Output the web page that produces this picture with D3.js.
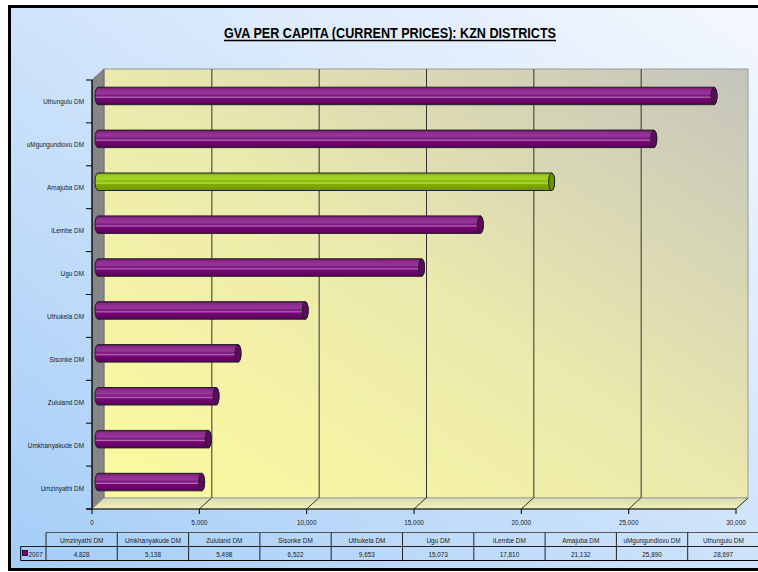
<!DOCTYPE html>
<html>
<head>
<meta charset="utf-8">
<script src="https://cdn.jsdelivr.net/npm/d3@7"></script>
<style>
  body { margin: 0; background: #fff; overflow: hidden; }
  svg { display: block; }
  text { font-family: "Liberation Sans", Arial, sans-serif; }
</style>
</head>
<body>
<div id="chart"></div>
<script>
const categories = ["Umzinyathi DM", "Umkhanyakude DM", "Zululand DM", "Sisonke DM", "Uthukela DM",
  "Ugu DM", "iLembe DM", "Amajuba DM", "uMgungundlovu DM", "Uthungulu DM"];
const values2007 = [4828, 5138, 5498, 6522, 9653, 15073, 17810, 21132, 25890, 28697];
const highlight = "Amajuba DM";
const xTicks = [0, 5000, 10000, 15000, 20000, 25000, 30000];
const seriesName = "2007";

const width = 758, height = 572;
const depthX = 12, depthY = -11;   // 3d offset of the back wall
const squeeze = 0.8;               // labels in the original use a narrow face

const svg = d3.select("#chart").append("svg")
  .attr("width", width).attr("height", height);

const defs = svg.append("defs");

function linGrad(id, x1, y1, x2, y2, stops) {
  const g = defs.append("linearGradient").attr("id", id)
    .attr("x1", x1).attr("y1", y1).attr("x2", x2).attr("y2", y2);
  stops.forEach(s => g.append("stop").attr("offset", s[0]).attr("stop-color", s[1]));
}

// narrow text: draw at (x,y) squeezed horizontally
function narrowText(parent, tx, ty, str, anchor, size) {
  return parent.append("text")
    .attr("transform", `translate(${tx},${ty}) scale(${squeeze},1)`)
    .attr("text-anchor", anchor).attr("font-size", size).attr("fill", "#222")
    .text(str);
}

linGrad("bgGrad", "0", "1", "1", "0", [[0, "#a4cdf7"], [0.55, "#d4e6fb"], [1, "#f6f9ff"]]);
linGrad("wallGrad", "0", "1", "1", "0", [[0, "#fbfb9e"], [0.5, "#ebe9ad"], [1, "#c4c4bc"]]);
linGrad("floorGrad", "0", "0", "0", "1", [[0, "#d8d8b8"], [1, "#f4f4b4"]]);
linGrad("purpleGrad", "0", "0", "0", "1", [
  [0, "#6a086a"], [0.12, "#8a2a8a"], [0.35, "#96389a"], [0.5, "#7e147e"],
  [0.58, "#b070b0"], [0.64, "#780678"], [1, "#5a005a"]]);
linGrad("greenGrad", "0", "0", "0", "1", [
  [0, "#76a400"], [0.12, "#98c818"], [0.35, "#a4d428"], [0.5, "#88b800"],
  [0.58, "#b8e060"], [0.64, "#80ae00"], [1, "#6a9400"]]);

// frame (runs off the right edge like the original)
svg.append("rect").attr("x", 9.5).attr("y", 6.5).attr("width", 790).attr("height", 563)
  .attr("fill", "url(#bgGrad)").attr("stroke", "#000").attr("stroke-width", 3);

// title
svg.append("text")
  .attr("x", 390).attr("y", 38).attr("text-anchor", "middle")
  .attr("font-size", 14).attr("font-weight", "bold").attr("fill", "#000")
  .attr("textLength", 332).attr("lengthAdjust", "spacingAndGlyphs")
  .text("GVA PER CAPITA (CURRENT PRICES): KZN DISTRICTS");
svg.append("line").attr("x1", 224).attr("x2", 556).attr("y1", 40.5).attr("y2", 40.5)
  .attr("stroke", "#000").attr("stroke-width", 1.4);

// scales
const x = d3.scaleLinear().domain([0, 30000]).range([92, 736]);
const y = d3.scaleBand().domain(categories.slice().reverse()).range([80, 509]);

const x0 = x(0), x1 = x(30000), yTop = 80, yBot = 509;

// back wall
svg.append("rect")
  .attr("x", x0 + depthX).attr("y", yTop + depthY)
  .attr("width", x1 - x0).attr("height", yBot - yTop)
  .attr("fill", "url(#wallGrad)").attr("stroke", "#999").attr("stroke-width", 1);

// side wall
svg.append("path")
  .attr("d", `M${x0},${yTop}L${x0 + depthX},${yTop + depthY}L${x0 + depthX},${yBot + depthY}L${x0},${yBot}Z`)
  .attr("fill", "#868686").attr("stroke", "#666").attr("stroke-width", 0.8);

// floor
svg.append("path")
  .attr("d", `M${x0},${yBot}L${x0 + depthX},${yBot + depthY}L${x1 + depthX},${yBot + depthY}L${x1},${yBot}Z`)
  .attr("fill", "url(#floorGrad)").attr("stroke", "#999").attr("stroke-width", 0.8);

// gridlines on back wall and floor
const grid = svg.append("g");
xTicks.filter(t => t > 0 && t < 30000).forEach(t => {
  grid.append("line")
    .attr("x1", x(t) + depthX + 0.5).attr("x2", x(t) + depthX + 0.5)
    .attr("y1", yTop + depthY).attr("y2", yBot + depthY)
    .attr("stroke", "#333").attr("stroke-width", 1);
});
xTicks.filter(t => t > 0).forEach(t => {
  grid.append("line")
    .attr("x1", x(t)).attr("y1", yBot)
    .attr("x2", x(t) + depthX).attr("y2", yBot + depthY)
    .attr("stroke", "#333").attr("stroke-width", 1);
});

// bars as cylinders
const barH = 17.5;
const bars = svg.append("g");
categories.forEach((c, i) => {
  const v = values2007[i];
  const cy = y(c) + y.bandwidth() / 2 + depthY / 2;
  const bx0 = x(0) + depthX / 2, bx1 = x(v) + depthX / 2;
  const top = cy - barH / 2, bot = cy + barH / 2;
  const rx = 3, ry = barH / 2;
  const isHi = c === highlight;
  bars.append("path")
    .attr("d", `M${bx0},${top}L${bx1},${top}A${rx},${ry} 0 0 1 ${bx1},${bot}L${bx0},${bot}A${rx},${ry} 0 0 1 ${bx0},${top}Z`)
    .attr("fill", isHi ? "url(#greenGrad)" : "url(#purpleGrad)")
    .attr("stroke", "#222").attr("stroke-width", 1);
  bars.append("ellipse")
    .attr("cx", bx1).attr("cy", cy).attr("rx", rx).attr("ry", ry)
    .attr("fill", isHi ? "#6a9400" : "#5c0a5c")
    .attr("stroke", "#222").attr("stroke-width", 1);
});

// y axis
const yAxis = svg.append("g");
yAxis.append("line").attr("x1", x0).attr("x2", x0).attr("y1", yTop).attr("y2", yBot)
  .attr("stroke", "#000").attr("stroke-width", 1.2);
d3.range(categories.length + 1).forEach(k => {
  const ty = yTop + k * y.step();
  yAxis.append("line").attr("x1", x0 - 6).attr("x2", x0).attr("y1", ty).attr("y2", ty)
    .attr("stroke", "#000").attr("stroke-width", 1);
});
categories.forEach(c => {
  narrowText(yAxis, 84, y(c) + y.bandwidth() / 2 + 3, c, "end", 8);
});

// x axis
const xAxis = svg.append("g");
xAxis.append("line").attr("x1", x0 - 6).attr("x2", x1).attr("y1", yBot).attr("y2", yBot)
  .attr("stroke", "#000").attr("stroke-width", 1.2);
xTicks.forEach(t => {
  xAxis.append("line").attr("x1", x(t)).attr("x2", x(t)).attr("y1", yBot).attr("y2", yBot + 5)
    .attr("stroke", "#000").attr("stroke-width", 1);
  narrowText(xAxis, x(t), 525, d3.format(",")(t), "middle", 8);
});

// data table
const tbl = svg.append("g");
const tLeft = 46, colW = 71.3, legLeft = 20.7;
const rTop = 532.5, rMid = 546.5, rBot = 560.5;
const tRight = tLeft + colW * categories.length;
tbl.append("line").attr("x1", tLeft).attr("x2", tRight).attr("y1", rTop).attr("y2", rTop)
  .attr("stroke", "#555").attr("stroke-width", 1);
tbl.append("line").attr("x1", legLeft).attr("x2", tRight).attr("y1", rMid).attr("y2", rMid)
  .attr("stroke", "#222").attr("stroke-width", 1);
tbl.append("line").attr("x1", legLeft).attr("x2", tRight).attr("y1", rBot).attr("y2", rBot)
  .attr("stroke", "#000").attr("stroke-width", 1.2);
tbl.append("line").attr("x1", legLeft).attr("x2", legLeft).attr("y1", rMid).attr("y2", rBot)
  .attr("stroke", "#000").attr("stroke-width", 1);
d3.range(categories.length + 1).forEach(k => {
  const lx = tLeft + k * colW;
  tbl.append("line").attr("x1", lx).attr("x2", lx).attr("y1", rTop).attr("y2", rBot)
    .attr("stroke", "#222").attr("stroke-width", 1);
});
categories.forEach((c, i) => {
  const cx = tLeft + colW * (i + 0.5);
  narrowText(tbl, cx, rTop + 10, c, "middle", 8);
  narrowText(tbl, cx, rMid + 10, d3.format(",")(values2007[i]), "middle", 8);
});
tbl.append("rect").attr("x", 22.5).attr("y", 550.5).attr("width", 5).attr("height", 5)
  .attr("fill", "#800080").attr("stroke", "#000").attr("stroke-width", 0.8);
narrowText(tbl, 28.5, rMid + 10.5, seriesName, "start", 8);
</script>
</body>
</html>
